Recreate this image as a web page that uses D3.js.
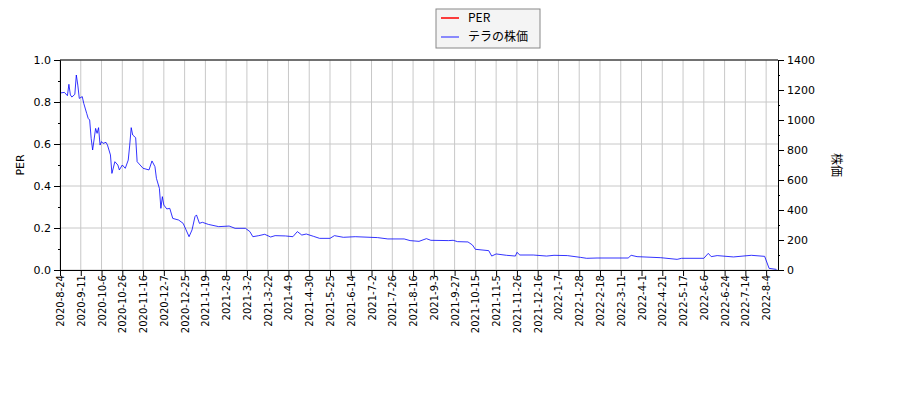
<!DOCTYPE html>
<html><head><meta charset="utf-8">
<script src="https://d3js.org/d3.v7.min.js"></script>
<style>body{margin:0;background:#fff}text{font-family:"DejaVu Sans",sans-serif}</style>
</head><body>
<svg id="c" width="900" height="400"></svg>
<script>
const tickLabels=["2020-8-24","2020-9-11","2020-10-6","2020-10-26","2020-11-16","2020-12-7","2020-12-25","2021-1-19","2021-2-8","2021-3-2","2021-3-22","2021-4-9","2021-4-30","2021-5-25","2021-6-14","2021-7-2","2021-7-26","2021-8-16","2021-9-3","2021-9-27","2021-10-15","2021-11-5","2021-11-26","2021-12-16","2022-1-7","2022-1-28","2022-2-18","2022-3-11","2022-4-1","2022-4-21","2022-5-17","2022-6-6","2022-6-24","2022-7-14","2022-8-4"];
const tickStep=14, nDays=485;
const priceDay=[0,3,5,6,7,8,10,11,12,13,15,16,18,19,20,21,22,24,25,26,27,28,29,31,32,34,35,37,39,40,42,44,46,47,48,49,51,52,54,56,60,62,64,65,67,68,69,70,72,74,76,80,83,85,87,89,91,92,94,96,100,107,114,118,125,128,130,134,138,142,145,152,157,160,163,166,171,175,182,185,191,199,214,221,232,236,242,247,250,262,265,268,275,278,280,289,291,294,301,307,308,310,319,328,333,342,351,355,362,383,385,389,405,416,419,434,437,439,443,454,466,475,478,483];
const price=[1180,1184,1162,1238,1167,1153,1171,1300,1233,1144,1156,1111,1044,1011,1000,878,800,944,911,949,833,856,844,851,833,767,644,722,700,667,700,678,733,833,949,900,882,722,700,678,667,727,689,611,544,411,489,433,407,411,344,333,311,267,222,267,356,367,311,318,304,289,293,278,278,256,222,229,238,220,229,227,222,256,233,240,224,211,211,229,218,222,216,207,207,196,191,209,198,196,198,189,187,167,138,129,93,107,98,93,118,100,100,93,98,96,84,78,80,80,98,89,82,71,78,78,111,89,96,87,98,91,11,4];
const perValues=[];
const leftTicks=[0,0.2,0.4,0.6,0.8,1.0];
const rightTicks=[0,200,400,600,800,1000,1200,1400];

const svg=d3.select("#c");
const L=60,R=778,T=60,B=270;
const x=d3.scaleLinear().domain([0,nDays-1]).range([L,R]);
const yL=d3.scaleLinear().domain([0,1]).range([B,T]);
const yR=d3.scaleLinear().domain([0,1400]).range([B,T]);
const g=svg.append("g");
tickLabels.forEach((t,i)=>g.append("line").attr("x1",x(i*tickStep)).attr("x2",x(i*tickStep)).attr("y1",T).attr("y2",B).attr("stroke","#c8c8c8"));
leftTicks.forEach(v=>g.append("line").attr("x1",L).attr("x2",R).attr("y1",yL(v)).attr("y2",yL(v)).attr("stroke","#c8c8c8"));
const line=d3.line().x((d,i)=>x(priceDay[i])).y(d=>yR(d));
g.append("path").datum(price).attr("d",line).attr("fill","none").attr("stroke","#0000ff").attr("stroke-width",0.8);
const ax=svg.append("g").attr("transform",`translate(0,${B})`).call(d3.axisBottom(x).tickValues(tickLabels.map((t,i)=>i*tickStep)).tickFormat((d,i)=>tickLabels[i]).tickSizeOuter(0));
ax.selectAll("text").attr("transform","rotate(-90)").attr("text-anchor","end").attr("x",-5).attr("y",0).attr("dy","0.35em").style("font-size","10px");
const al=svg.append("g").attr("transform",`translate(${L},0)`).call(d3.axisLeft(yL).tickValues(leftTicks).tickFormat(d3.format(".1f")).tickSizeOuter(0));
al.selectAll("text").style("font-size","11px");
svg.append("g").attr("transform",`translate(${L},0)`).call(d3.axisLeft(yL).tickValues(d3.range(0.1,1,0.2)).tickSize(2).tickFormat("").tickSizeOuter(0));
const ar=svg.append("g").attr("transform",`translate(${R},0)`).call(d3.axisRight(yR).tickValues(rightTicks).tickFormat(d3.format("d")).tickSizeOuter(0));
ar.selectAll("text").style("font-size","11px");
svg.append("g").attr("transform",`translate(${R},0)`).call(d3.axisRight(yR).tickValues(d3.range(100,1400,200)).tickSize(2).tickFormat("").tickSizeOuter(0));
svg.append("line").attr("x1",L).attr("x2",R).attr("y1",T).attr("y2",T).attr("stroke","#000");
svg.selectAll(".domain").attr("stroke","#000");
svg.append("text").attr("transform",`translate(24,${(T+B)/2}) rotate(-90)`).attr("text-anchor","middle").style("font-size","11px").text("PER");
svg.append("text").attr("transform",`translate(832,${(T+B)/2}) rotate(90)`).attr("text-anchor","middle").style("font-size","12px").style("font-family","'Noto Sans CJK JP'").text("株価");
const lg=svg.append("g").attr("transform","translate(436,9)");
lg.append("rect").attr("width",104).attr("height",39).attr("fill","#f4f4f4").attr("stroke","#888");
[["PER","#ff0000"],["テラの株価","#6666ff"]].forEach((d,i)=>{
 lg.append("line").attr("x1",5).attr("x2",23).attr("y1",9+i*19).attr("y2",9+i*19).attr("stroke",d[1]).attr("stroke-width",1.5);
 lg.append("text").attr("x",32).attr("y",13+i*19).style("font-size","12px").style("font-family","'Noto Sans CJK JP'").text(d[0]);
});
</script></body></html>
